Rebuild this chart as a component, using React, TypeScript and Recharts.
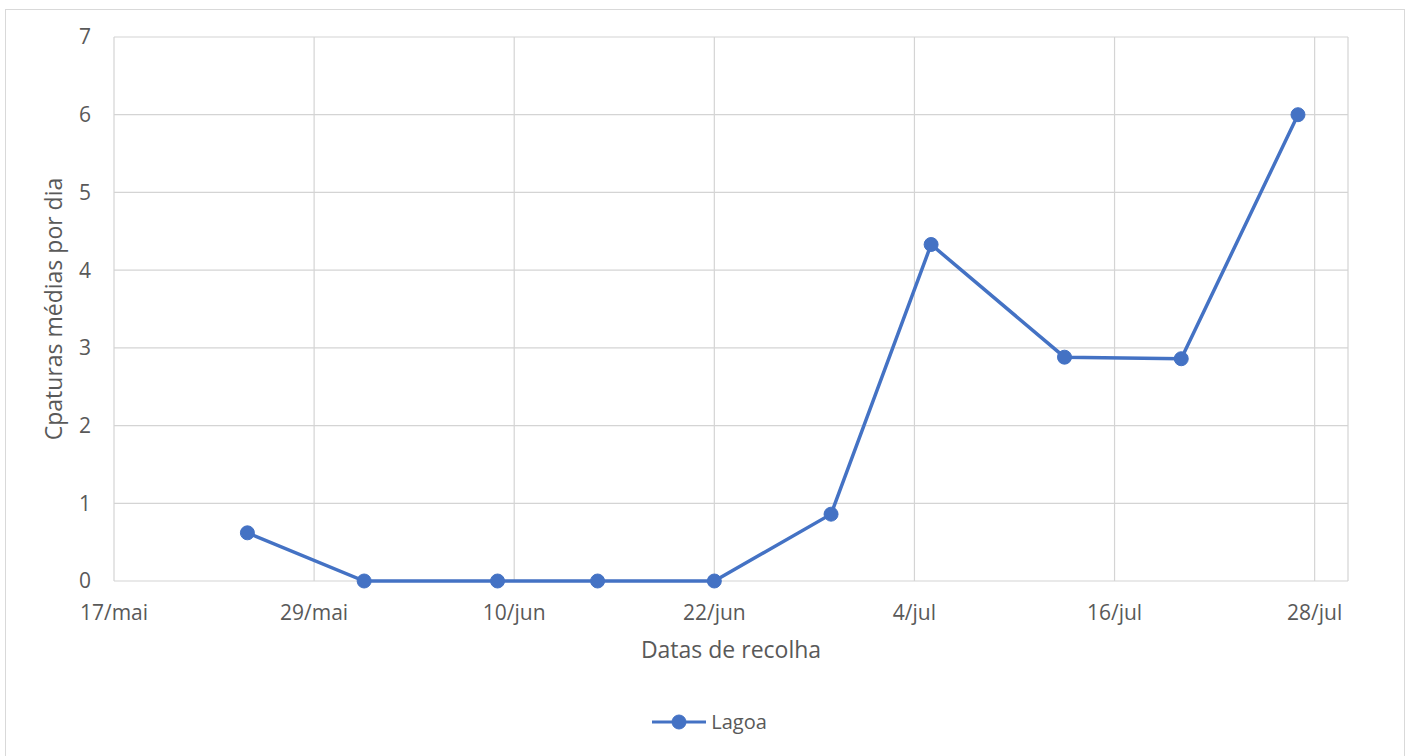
import React from "react";
import {
  LineChart,
  Line,
  XAxis,
  YAxis,
  CartesianGrid,
  Legend,
} from "recharts";

// ---- data ----
const collectionDates = [
  "2021-05-25",
  "2021-06-01",
  "2021-06-09",
  "2021-06-15",
  "2021-06-22",
  "2021-06-29",
  "2021-07-05",
  "2021-07-13",
  "2021-07-20",
  "2021-07-27",
];
const lagoaValues = [0.62, 0, 0, 0, 0, 0.86, 4.33, 2.88, 2.86, 6.0];
const xTickDates = [
  "2021-05-17",
  "2021-05-29",
  "2021-06-10",
  "2021-06-22",
  "2021-07-04",
  "2021-07-16",
  "2021-07-28",
];
const xDomainDates = ["2021-05-17", "2021-07-30"];
const yTicks = [0, 1, 2, 3, 4, 5, 6, 7];
const monthNames = ["jan", "fev", "mar", "abr", "mai", "jun", "jul", "ago", "set", "out", "nov", "dez"];
const seriesName = "Lagoa";
const xTitle = "Datas de recolha";
const yTitle = "Cpaturas médias por dia";

const toTs = (s: string) => {
  const [y, m, d] = s.split("-").map(Number);
  return Date.UTC(y, m - 1, d);
};
const fmtDate = (ts: number) => {
  const d = new Date(ts);
  return `${d.getUTCDate()}/${monthNames[d.getUTCMonth()]}`;
};

const data = collectionDates.map((s, i) => ({ t: toTs(s), lagoa: lagoaValues[i] }));
const xTicks = xTickDates.map(toTs);
const xDomain = xDomainDates.map(toTs);

const BLUE = "#4472C4";
const TEXT = "#595959";
const FONT = "'Open Sans', sans-serif";

const LegendContent = () => (
  <div
    style={{
      display: "flex",
      justifyContent: "center",
      alignItems: "center",
      fontFamily: FONT,
      fontSize: 20,
      color: TEXT,
      height: 24,
    }}
  >
    <svg width={56} height={20} style={{ display: "block" }}>
      <line x1={1} y1={10} x2={55} y2={10} stroke={BLUE} strokeWidth={3} />
      <circle cx={28} cy={10} r={7} fill={BLUE} stroke={BLUE} strokeWidth={1} />
    </svg>
    <span style={{ marginLeft: 4, lineHeight: "24px" }}>{seriesName}</span>
  </div>
);

export default function App() {
  return (
    <div
      style={{
        position: "fixed",
        left: 0,
        top: 0,
        width: 1418,
        height: 756,
        overflow: "hidden",
        background: "#ffffff",
      }}
    >
      <div
        style={{
          position: "absolute",
          left: 5,
          top: 9,
          width: 1400,
          height: 800,
          border: "1px solid #d9d9d9",
          boxSizing: "border-box",
        }}
      />
      <div style={{ position: "absolute", left: 0, top: 0 }}>
        <LineChart
          width={1418}
          height={756}
          data={data}
          margin={{ top: 37, right: 70, bottom: 0, left: 0 }}
        >
          <CartesianGrid stroke="#d4d4d4" strokeWidth={1.2} />
          <XAxis
            dataKey="t"
            type="number"
            scale="linear"
            domain={xDomain}
            ticks={xTicks}
            tickFormatter={fmtDate}
            height={175}
            tickSize={0}
            tickLine={false}
            tickMargin={24}
            axisLine={false}
            tick={{ fill: TEXT, fontSize: 21, fontFamily: FONT }}
            interval={0}
            label={{
              value: xTitle,
              position: "insideTop",
              offset: 61,
              fill: TEXT,
              fontSize: 23,
              fontFamily: FONT,
            }}
          />
          <YAxis
            type="number"
            domain={[0, 7]}
            ticks={yTicks}
            width={114}
            tickSize={0}
            tickLine={false}
            tickMargin={23}
            axisLine={false}
            tick={{ fill: TEXT, fontSize: 21, fontFamily: FONT }}
            interval={0}
            label={{
              value: yTitle,
              position: "insideLeft",
              offset: 54,
              angle: -90,
              fill: TEXT,
              fontSize: 23,
              fontFamily: FONT,
              style: { textAnchor: "middle" },
            }}
          />
          <Legend
            layout="horizontal"
            verticalAlign="middle"
            align="center"
            wrapperStyle={{ top: 710, left: 0, width: 1418 }}
            content={<LegendContent />}
          />
          <Line
            type="linear"
            dataKey="lagoa"
            name={seriesName}
            stroke={BLUE}
            strokeWidth={3.5}
            dot={{ r: 7, fill: BLUE, stroke: BLUE, strokeWidth: 1 }}
            activeDot={false}
            isAnimationActive={false}
          />
        </LineChart>
      </div>
    </div>
  );
}
